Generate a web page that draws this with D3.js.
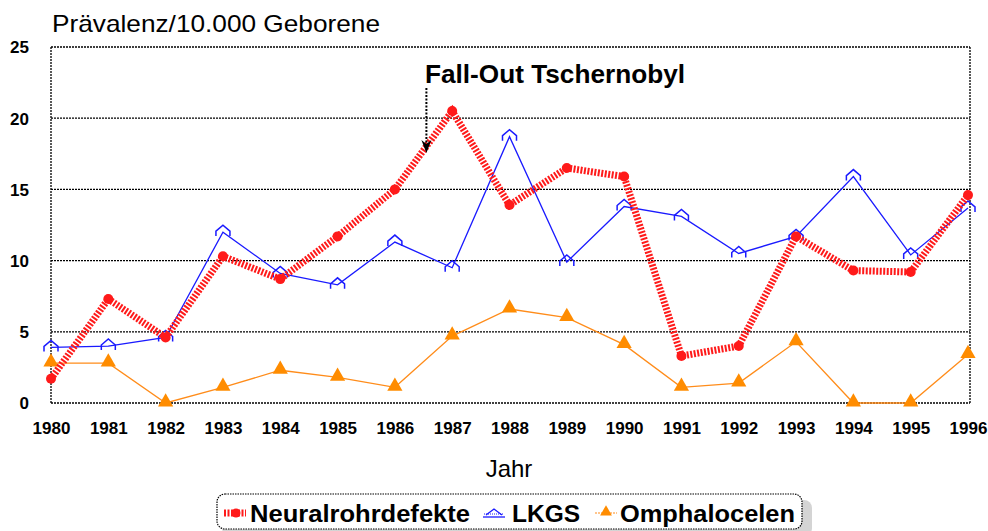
<!DOCTYPE html>
<html>
<head>
<meta charset="utf-8">
<script src="https://cdn.jsdelivr.net/npm/d3@7/dist/d3.min.js"></script>
<style>
  html, body { margin: 0; padding: 0; background: #fff; }
  svg { display: block; }
</style>
</head>
<body>
<svg id="chart" width="988" height="531"></svg>
<script>
// Years on the x axis
const years = [1980, 1981, 1982, 1983, 1984, 1985, 1986, 1987, 1988, 1989, 1990, 1991, 1992, 1993, 1994, 1995, 1996];
// Prevalence per 10,000 births
const neuralrohr = [1.7, 7.3, 4.6, 10.3, 8.7, 11.7, 15.0, 20.5, 13.9, 16.5, 15.9, 3.3, 4.0, 11.7, 9.3, 9.2, 14.6];
const lkgs       = [3.9, 4.0, 4.6, 12.0, 9.1, 8.3, 11.3, 9.5, 18.7, 9.9, 13.8, 13.1, 10.5, 11.7, 15.9, 10.4, 13.7];
const omphalo    = [2.8, 2.8, 0.0, 1.1, 2.3, 1.8, 1.1, 4.7, 6.6, 6.0, 4.1, 1.1, 1.4, 4.3, 0.0, 0.0, 3.4];
const yTicks = [0, 5, 10, 15, 20, 25];
const seriesNames = ["Neuralrohrdefekte", "LKGS", "Omphalocelen"];
const eventYear = 1986.55;
const eventLabel = "Fall-Out Tschernobyl";

const svg = d3.select("#chart");
const font = "'Liberation Sans', Arial, sans-serif";

const x = d3.scaleLinear().domain([1980, 1996]).range([51, 968]);
const y = d3.scaleLinear().domain([0, 25]).range([403, 47]);

// Gridlines
svg.append("g").selectAll("line").data(yTicks).join("line")
  .attr("x1", x(1980)).attr("x2", 970)
  .attr("y1", d => y(d)).attr("y2", d => y(d))
  .attr("stroke", "#000").attr("stroke-width", 1.3).attr("stroke-dasharray", "2,1");

// Left and right frame lines
svg.append("line").attr("x1", x(1980)).attr("x2", x(1980)).attr("y1", y(25)).attr("y2", y(0))
  .attr("stroke", "#000").attr("stroke-width", 1.3).attr("stroke-dasharray", "2,1");
svg.append("line").attr("x1", 970).attr("x2", 970).attr("y1", y(25)).attr("y2", y(0))
  .attr("stroke", "#000").attr("stroke-width", 1.3).attr("stroke-dasharray", "2,1");

// Y axis labels
const yAxis = d3.axisLeft(y).tickValues(yTicks).tickSize(0).tickPadding(0).tickFormat(d3.format("d"));
const yg = svg.append("g").attr("transform", "translate(29,0)").call(yAxis);
yg.select(".domain").remove();
yg.selectAll("text").attr("font-family", font).attr("font-weight", "bold").attr("font-size", 17).attr("fill", "#000").attr("dy", "0.35em");

// X axis labels
const xAxis = d3.axisBottom(x).tickValues(years).tickSize(0).tickPadding(0).tickFormat(d3.format("d"));
const xg = svg.append("g").attr("transform", "translate(0,422)").call(xAxis);
xg.select(".domain").remove();
xg.selectAll("text").attr("font-family", font).attr("font-weight", "bold").attr("font-size", 17).attr("fill", "#000");

// Titles
svg.append("text").attr("x", 52).attr("y", 32).text("Prävalenz/10.000 Geborene")
  .attr("font-family", font).attr("font-size", 24).attr("fill", "#000")
  .attr("textLength", 328).attr("lengthAdjust", "spacingAndGlyphs");
svg.append("text").attr("x", 509).attr("y", 477).attr("text-anchor", "middle").text("Jahr")
  .attr("font-family", font).attr("font-size", 24).attr("fill", "#000");

const line = d3.line().x((d, i) => x(years[i])).y(d => y(d));

// Omphalocelen
svg.append("path").datum(omphalo).attr("d", line)
  .attr("fill", "none").attr("stroke", "#ff8c1a").attr("stroke-width", 1.3);
const tri = d3.symbol().type(d3.symbolTriangle).size(100);
svg.append("g").selectAll("path").data(omphalo).join("path")
  .attr("d", tri).attr("transform", (d, i) => `translate(${x(years[i])},${y(d) - 1})`)
  .attr("fill", "#ff8c00");

// LKGS
svg.append("path").datum(lkgs).attr("d", line)
  .attr("fill", "none").attr("stroke", "#1a1aff").attr("stroke-width", 1.3);
const house = "M-7,4 L-7,-1 L0,-7 L7,-1 L7,4";
svg.append("g").selectAll("path").data(lkgs).join("path")
  .attr("d", house).attr("transform", (d, i) => `translate(${x(years[i])},${y(d)})`)
  .attr("fill", "none").attr("stroke", "#1a1aff").attr("stroke-width", 1.5);

// Neuralrohrdefekte
svg.append("path").datum(neuralrohr).attr("d", line)
  .attr("fill", "none").attr("stroke", "#ff1a1a").attr("stroke-width", 7).attr("stroke-dasharray", "2,1.5");
svg.append("g").selectAll("circle").data(neuralrohr).join("circle")
  .attr("cx", (d, i) => x(years[i])).attr("cy", d => y(d)).attr("r", 5)
  .attr("fill", "#ff1a1a");

// Event annotation
const ax = x(eventYear);
svg.append("line").attr("x1", ax).attr("x2", ax).attr("y1", 88).attr("y2", 146)
  .attr("stroke", "#000").attr("stroke-width", 2).attr("stroke-dasharray", "2,1.5");
svg.append("path").attr("d", `M${ax - 5},${140} L${ax},${153} L${ax + 5},${140} L${ax},${144} Z`).attr("fill", "#000");
svg.append("text").attr("x", 425).attr("y", 83).text(eventLabel)
  .attr("font-family", font).attr("font-weight", "bold").attr("font-size", 26).attr("fill", "#000")
  .attr("textLength", 260).attr("lengthAdjust", "spacingAndGlyphs");

// Legend
const lg = svg.append("g");
lg.append("rect").attr("x", 222).attr("y", 500).attr("width", 590).attr("height", 36).attr("rx", 8).attr("fill", "#d4d4d4");
lg.append("rect").attr("x", 217).attr("y", 494).attr("width", 585).attr("height", 35).attr("rx", 8)
  .attr("fill", "#fff").attr("stroke", "#000").attr("stroke-width", 1.2).attr("stroke-dasharray", "1.5,1");

const legendY = 513;
const legendText = (x0, len, label) => lg.append("text").attr("x", x0).attr("y", 522).text(label)
  .attr("font-family", font).attr("font-weight", "bold").attr("font-size", 24).attr("fill", "#000")
  .attr("textLength", len).attr("lengthAdjust", "spacingAndGlyphs");

// Neuralrohrdefekte key
lg.append("line").attr("x1", 224).attr("x2", 246).attr("y1", legendY).attr("y2", legendY)
  .attr("stroke", "#ff1a1a").attr("stroke-width", 7).attr("stroke-dasharray", "2,1.5");
lg.append("circle").attr("cx", 236).attr("cy", legendY).attr("r", 4.5).attr("fill", "#ff1a1a");
legendText(250, 220, seriesNames[0]);
// LKGS key
lg.append("line").attr("x1", 483).attr("x2", 505).attr("y1", legendY + 4).attr("y2", legendY + 4)
  .attr("stroke", "#1a1aff").attr("stroke-width", 1.3);
lg.append("path").attr("d", "M-8,2 L0,-4 L8,2").attr("transform", `translate(494,${legendY})`)
  .attr("fill", "none").attr("stroke", "#1a1aff").attr("stroke-width", 1.3);
lg.append("line").attr("x1", 484).attr("x2", 504).attr("y1", legendY + 1).attr("y2", legendY + 1)
  .attr("stroke", "#1a1aff").attr("stroke-width", 1).attr("stroke-dasharray", "1,1");
legendText(512, 68, seriesNames[1]);
// Omphalocelen key
lg.append("line").attr("x1", 595).attr("x2", 617).attr("y1", legendY).attr("y2", legendY)
  .attr("stroke", "#ff8c1a").attr("stroke-width", 1.2).attr("stroke-dasharray", "2,1");
lg.append("path").attr("d", d3.symbol().type(d3.symbolTriangle).size(60)).attr("transform", `translate(606,${legendY - 1})`)
  .attr("fill", "#ff8c00");
legendText(620, 175, seriesNames[2]);
</script>
</body>
</html>
